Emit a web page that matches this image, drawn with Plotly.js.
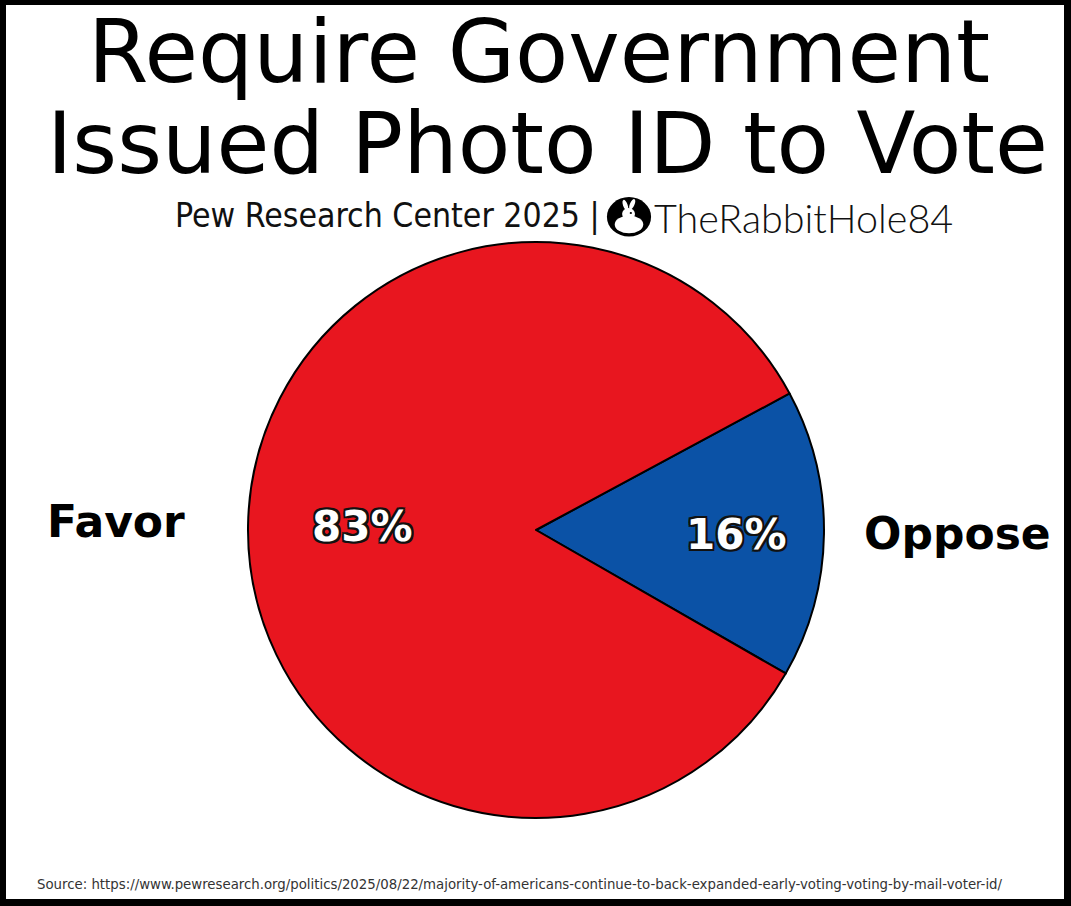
<!DOCTYPE html>
<html>
<head>
<meta charset="utf-8">
<script src="https://cdn.plot.ly/plotly-3.0.1.min.js"></script>
<style>
  html, body { margin: 0; padding: 0; background: #000; width: 1071px; height: 906px; overflow: hidden; }
  #chart { position: absolute; left: 6px; top: 5px; width: 1058px; height: 894px; background: #fff; }
</style>
</head>
<body>
<div id="chart"></div>
<script>
// ---- data ----
const labels = ["Oppose", "Favor"];
const values = [16, 83];
const colors = ["#0B52A6", "#E8161F"];
const titleLines = ["Require Government", "Issued Photo ID to Vote"];
const subtitle = "Pew Research Center 2025 |";
const handle = "TheRabbitHole84";
const sourceText = "Source: https://www.pewresearch.org/politics/2025/08/22/majority-of-americans-continue-to-back-expanded-early-voting-voting-by-mail-voter-id/";

// label / percent placements (paper coords)
const labelPos = { "Favor": [0.1711, 0.4222, "right"], "Oppose": [0.8091, 0.4083, "left"] };
const pctPos = { "Favor": [0.3365, 0.4172], "Oppose": [0.6909, 0.4072] };

const W = 1058, H = 894;

const outline = "-2px -2px 0 #111, 2px -2px 0 #111, -2px 2px 0 #111, 2px 2px 0 #111, 0 2px 0 #111, 0 -2px 0 #111, 2px 0 0 #111, -2px 0 0 #111";

const rabbitSvg = '<svg xmlns="http://www.w3.org/2000/svg" viewBox="0 0 100 100">' +
  '<ellipse cx="50" cy="52" rx="48" ry="47" fill="#000"/>' +
  '<ellipse cx="50" cy="70" rx="31" ry="21" fill="#fff"/>' +
  '<circle cx="49" cy="45" r="14" fill="#fff"/>' +
  '<ellipse cx="42" cy="24" rx="5" ry="13" transform="rotate(-18 42 24)" fill="#fff"/>' +
  '<ellipse cx="57" cy="22" rx="5" ry="13" transform="rotate(22 57 22)" fill="#fff"/>' +
  '<circle cx="54" cy="43" r="2.5" fill="#000"/>' +
  '</svg>';
const rabbitUri = 'data:image/svg+xml;base64,' + btoa(rabbitSvg);

// pie geometry: center (530,525) in div px, radius 288
const cx = 530, cy = 525, R = 288;
const domX = [(cx - R) / W, (cx + R) / W];
const domY = [1 - (cy + R) / H, 1 - (cy - R) / H];

// first slice (Oppose) starts slightly above east: angle measured clockwise from 12 o'clock
const rotation = 90 - 28.3;

const trace = {
  type: "pie",
  labels: labels,
  values: values,
  sort: false,
  direction: "clockwise",
  rotation: rotation,
  marker: { colors: colors, line: { color: "#000", width: 2 } },
  textinfo: "none",
  hoverinfo: "skip",
  showlegend: false,
  domain: { x: domX, y: domY }
};

const annotations = [];
annotations.push({ text: titleLines[0], x: 0.5038, y: 0.9474, xref: "paper", yref: "paper",
  xanchor: "center", yanchor: "middle", showarrow: false,
  font: { family: "DejaVu Sans", size: 87, color: "#000" } });
annotations.push({ text: titleLines[1], x: 0.5118, y: 0.846, xref: "paper", yref: "paper",
  xanchor: "center", yanchor: "middle", showarrow: false,
  font: { family: "DejaVu Sans", size: 86, color: "#000" } });
annotations.push({ text: subtitle, x: 0.1578, y: 0.765, xref: "paper", yref: "paper",
  xanchor: "left", yanchor: "middle", showarrow: false,
  font: { family: "DejaVu Sans Condensed, DejaVu Sans", size: 33.5, color: "#111" } });
annotations.push({ text: handle, x: 0.6105, y: 0.762, xref: "paper", yref: "paper",
  xanchor: "left", yanchor: "middle", showarrow: false,
  font: { family: "Lato, Noto Sans, sans-serif", size: 39.5, weight: 300, color: "#111" } });
annotations.push({ text: sourceText, x: 0.0274, y: 0.0168, xref: "paper", yref: "paper",
  xanchor: "left", yanchor: "middle", showarrow: false,
  font: { family: "DejaVu Sans Condensed, DejaVu Sans", size: 14.8, color: "#333" } });

labels.forEach((lab, i) => {
  const lp = labelPos[lab];
  annotations.push({ text: "<b>" + lab + "</b>", x: lp[0], y: lp[1], xref: "paper", yref: "paper",
    xanchor: lp[2], yanchor: "middle", showarrow: false,
    font: { family: "DejaVu Sans", size: 44, color: "#000" } });
  const pp = pctPos[lab];
  annotations.push({ text: "<b>" + values[i] + "%</b>", x: pp[0], y: pp[1], xref: "paper", yref: "paper",
    xanchor: "center", yanchor: "middle", showarrow: false,
    font: { family: "DejaVu Sans", size: 42, color: "#fff", shadow: outline } });
});

const layout = {
  width: W, height: H,
  margin: { l: 0, r: 0, t: 0, b: 0 },
  paper_bgcolor: "#fff",
  plot_bgcolor: "#fff",
  showlegend: false,
  annotations: annotations,
  images: [{ source: rabbitUri, xref: "paper", yref: "paper",
    x: 623 / W, y: 1 - 211 / H, sizex: 46 / W, sizey: 42 / H,
    xanchor: "center", yanchor: "middle", sizing: "stretch", layer: "above" }]
};

Plotly.newPlot("chart", [trace], layout, { displayModeBar: false, staticPlot: true });
</script>
</body>
</html>
